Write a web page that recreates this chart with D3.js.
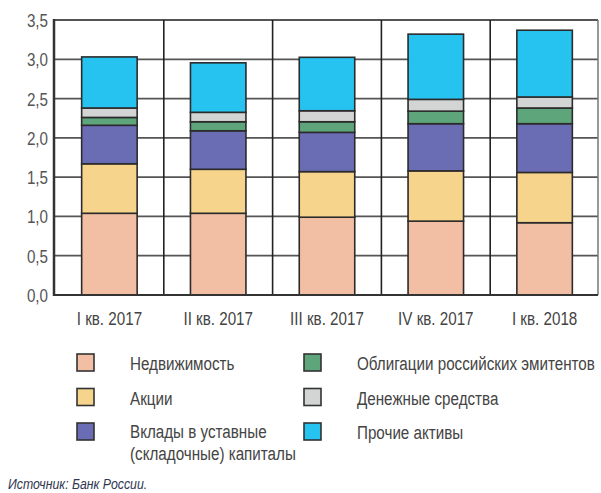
<!DOCTYPE html>
<html>
<head>
<meta charset="utf-8">
<script src="https://cdn.jsdelivr.net/npm/d3@7"></script>
<style>
  html, body { margin: 0; padding: 0; background: #fff; }
  svg { display: block; }
  text { font-family: "Liberation Sans", Arial, sans-serif; }
</style>
</head>
<body>
<svg id="chart" width="601" height="493"></svg>
<script>
// Quarterly structure of assets, trillion rubles
const categories = ["I кв. 2017", "II кв. 2017", "III кв. 2017", "IV кв. 2017", "I кв. 2018"];
const realEstate = [1.04, 1.04, 0.99, 0.94, 0.92];
const shares     = [0.63, 0.56, 0.58, 0.64, 0.64];
const deposits   = [0.49, 0.49, 0.50, 0.60, 0.62];
const bonds      = [0.10, 0.115, 0.135, 0.16, 0.20];
const cash       = [0.12, 0.12, 0.14, 0.15, 0.14];
const other      = [0.65, 0.63, 0.68, 0.83, 0.85];

const seriesNames = [
  "Недвижимость",
  "Акции",
  "Вклады в уставные (складочные) капиталы",
  "Облигации российских эмитентов",
  "Денежные средства",
  "Прочие активы"
];
const seriesValues = [realEstate, shares, deposits, bonds, cash, other];
const seriesColors = ["#f2bfa5", "#f6d48c", "#6a6db4", "#5fa57b", "#d3d5d4", "#27c3f0"];
const yTicks = [0, 0.5, 1, 1.5, 2, 2.5, 3, 3.5];

const svg = d3.select("#chart");
const plot = { left: 54, right: 598, top: 20, bottom: 295 };
const fontSize = 19, squeeze = 0.8;

const x = d3.scaleBand().domain(categories).range([plot.left + 1, plot.right + 1]).padding(0);
const y = d3.scaleLinear().domain([0, 3.5]).range([plot.bottom, plot.top]);
const barW = x.bandwidth() * 0.51;

// condensed text helper
function label(g, str, px, py, anchor, size, sx, fill, style) {
  return g.append("text")
    .attr("transform", `translate(${px},${py}) scale(${sx},1)`)
    .attr("text-anchor", anchor)
    .attr("font-size", size)
    .attr("font-style", style || "normal")
    .attr("fill", fill)
    .text(str);
}

// horizontal grid
const grid = svg.append("g");
grid.selectAll("line.h").data(yTicks).join("line")
  .attr("x1", plot.left).attr("x2", plot.right)
  .attr("y1", d => y(d)).attr("y2", d => y(d))
  .attr("stroke", "#555").attr("stroke-width", 1.8);

// vertical separators between quarters and right border
const seps = categories.slice(1).map(c => x(c));
grid.selectAll("line.v").data(seps).join("line")
  .attr("x1", d => d).attr("x2", d => d)
  .attr("y1", plot.top).attr("y2", plot.bottom)
  .attr("stroke", "#222").attr("stroke-width", 1.6);
grid.append("line")
  .attr("x1", plot.right).attr("x2", plot.right)
  .attr("y1", plot.top).attr("y2", plot.bottom)
  .attr("stroke", "#777").attr("stroke-width", 1.5);

// stacked bars
const rows = categories.map((c, i) => {
  const r = { cat: c };
  seriesNames.forEach((n, k) => { r[n] = seriesValues[k][i]; });
  return r;
});
const stacked = d3.stack().keys(seriesNames)(rows);

const bars = svg.append("g");
stacked.forEach((layer, k) => {
  bars.append("g").selectAll("rect").data(layer).join("rect")
    .attr("x", d => x(d.data.cat) + (x.bandwidth() - barW) / 2)
    .attr("width", barW)
    .attr("y", d => y(d[1]))
    .attr("height", d => y(d[0]) - y(d[1]))
    .attr("fill", seriesColors[k])
    .attr("stroke", "#2b2b2b")
    .attr("stroke-width", 1.6);
});

// axes lines
svg.append("line")
  .attr("x1", plot.left).attr("x2", plot.left)
  .attr("y1", plot.top - 1).attr("y2", plot.bottom + 1)
  .attr("stroke", "#333").attr("stroke-width", 2.5);
svg.append("line")
  .attr("x1", plot.left).attr("x2", plot.right)
  .attr("y1", plot.bottom).attr("y2", plot.bottom)
  .attr("stroke", "#333").attr("stroke-width", 2);

// y tick labels
const yl = svg.append("g");
yTicks.forEach(t => {
  label(yl, d3.format(".1f")(t).replace(".", ","), 48, y(t) + 7, "end", fontSize, squeeze, "#555");
});

// x tick labels
const xl = svg.append("g");
categories.forEach(c => {
  label(xl, c, x(c) + x.bandwidth() / 2, 325, "middle", fontSize, squeeze, "#444");
});

// legend
const legend = svg.append("g");
const legendItems = [
  { k: 0, col: 0, row: 0, lines: ["Недвижимость"] },
  { k: 1, col: 0, row: 1, lines: ["Акции"] },
  { k: 2, col: 0, row: 2, lines: ["Вклады в уставные", "(складочные) капиталы"] },
  { k: 3, col: 1, row: 0, lines: ["Облигации российских эмитентов"] },
  { k: 4, col: 1, row: 1, lines: ["Денежные средства"] },
  { k: 5, col: 1, row: 2, lines: ["Прочие активы"] }
];
const colX = [77, 304], textX = [130, 357];
const rowTop = [354, 388.5, 423];
legendItems.forEach(it => {
  legend.append("rect")
    .attr("x", colX[it.col]).attr("y", rowTop[it.row])
    .attr("width", 17).attr("height", 17)
    .attr("fill", seriesColors[it.k])
    .attr("stroke", "#333").attr("stroke-width", 1.6);
  const base = rowTop[it.row] + 16 - (it.lines.length > 1 ? 1 : 0);
  it.lines.forEach((ln, j) => {
    label(legend, ln, textX[it.col], base + j * 22, "start", fontSize, squeeze, "#444");
  });
});

// source note
label(svg, "Источник: Банк России.", 8, 489, "start", 14, 0.88, "#2f3550", "italic");
</script>
</body>
</html>
